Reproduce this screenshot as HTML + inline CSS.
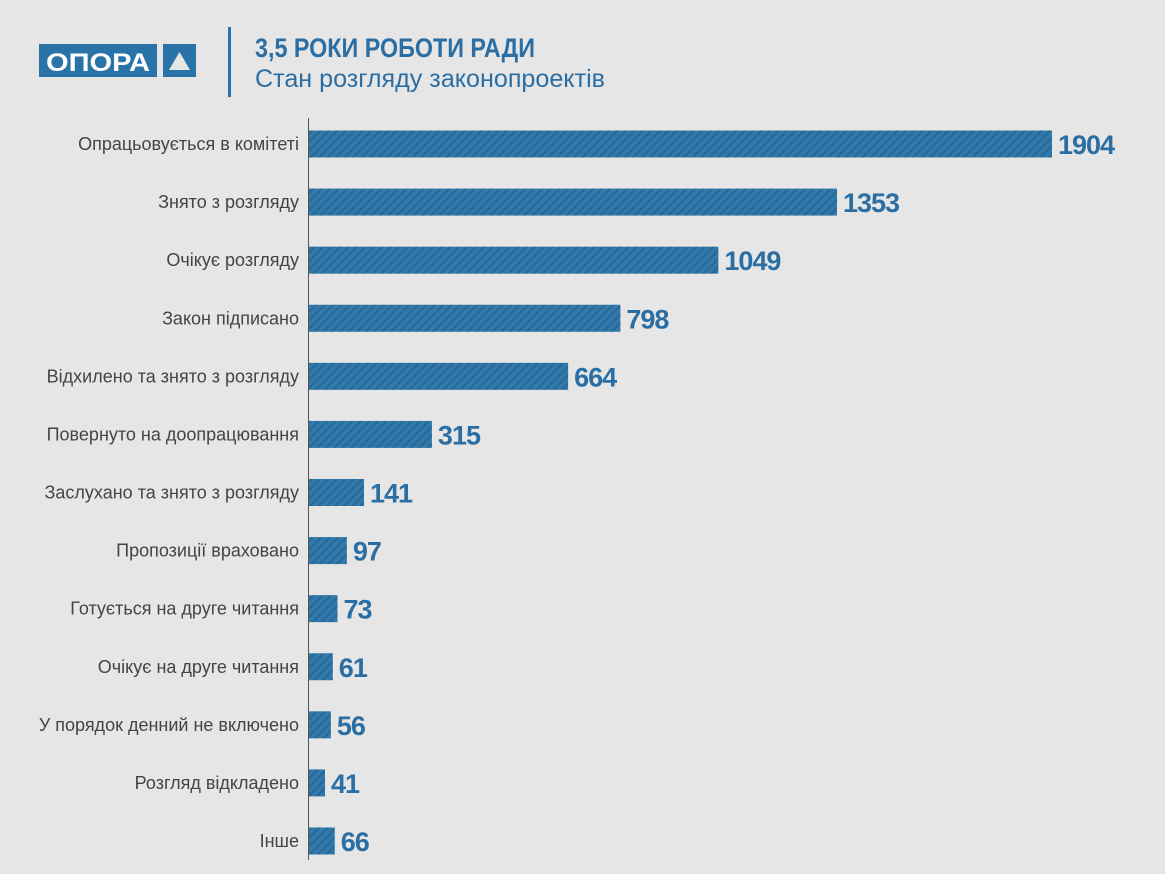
<!DOCTYPE html>
<html><head><meta charset="utf-8"><style>
body{margin:0;width:1165px;height:874px;background:#e6e6e6;overflow:hidden;font-family:"Liberation Sans",sans-serif}
svg{display:block}
</style></head><body>
<svg width="1165" height="874">
<defs>
<pattern id="hatch" width="6" height="6" patternUnits="userSpaceOnUse" patternTransform="rotate(45)">
<rect width="6" height="6" fill="#3079ac"/><rect width="2" height="6" fill="#2a6792"/>
</pattern>
</defs>
<g>
<rect x="39" y="44" width="118" height="33" fill="#2a73a8"/>
<text x="98" y="71" text-anchor="middle" fill="#fff" font-weight="bold" font-size="25" textLength="104" lengthAdjust="spacingAndGlyphs">ОПОРА</text>
<rect x="163" y="44" width="33" height="33" fill="#2a73a8"/>
<polygon points="179.5,52 190,70 169,70" fill="#e6e6e6"/>
</g>
<rect x="228" y="27" width="3" height="70" fill="#2a73a8"/>
<text x="255" y="57" fill="#2a6ea3" font-weight="bold" font-size="27" textLength="280" lengthAdjust="spacingAndGlyphs">3,5 РОКИ РОБОТИ РАДИ</text>
<text x="255" y="87" fill="#2a6ea3" font-size="25" textLength="350" lengthAdjust="spacingAndGlyphs">Стан розгляду законопроектів</text>
<line x1="308.5" y1="118" x2="308.5" y2="860" stroke="#555" stroke-width="1"/>
<g id="bars"></g>
</svg>
<script>
const categories=["Опрацьовується в комітеті","Знято з розгляду","Очікує розгляду","Закон підписано","Відхилено та знято з розгляду","Повернуто на доопрацювання","Заслухано та знято з розгляду","Пропозиції враховано","Готується на друге читання","Очікує на друге читання","У порядок денний не включено","Розгляд відкладено","Інше"];
const values=[1904,1353,1049,798,664,315,141,97,73,61,56,41,66];
const NS="http://www.w3.org/2000/svg";
const x0=309, pxPerUnit=743/1904;
const xScale=v=>x0+v*pxPerUnit;
const yCenter=i=>144+i*(841-144)/(categories.length-1);
const g=document.getElementById('bars');
categories.forEach((c,i)=>{
  const yc=yCenter(i);
  const r=document.createElementNS(NS,'rect');
  r.setAttribute('x',x0);r.setAttribute('y',yc-13.5);
  r.setAttribute('width',xScale(values[i])-x0);r.setAttribute('height',27);
  r.setAttribute('fill','url(#hatch)');
  
  
  g.appendChild(r);
  const t=document.createElementNS(NS,'text');
  t.setAttribute('x',299);t.setAttribute('y',yc+6);
  t.setAttribute('text-anchor','end');t.setAttribute('font-size','18');t.setAttribute('fill','#444');
  t.textContent=c;
  
  
  g.appendChild(t);
  const v=document.createElementNS(NS,'text');
  v.setAttribute('x',xScale(values[i])+6);v.setAttribute('y',yc+10);
  v.setAttribute('font-size','27');v.setAttribute('font-weight','bold');v.setAttribute('fill','#2a6ea3');
  v.setAttribute('letter-spacing','-1');
  v.textContent=values[i];
  
  
  g.appendChild(v);
});
</script>
</body></html>
